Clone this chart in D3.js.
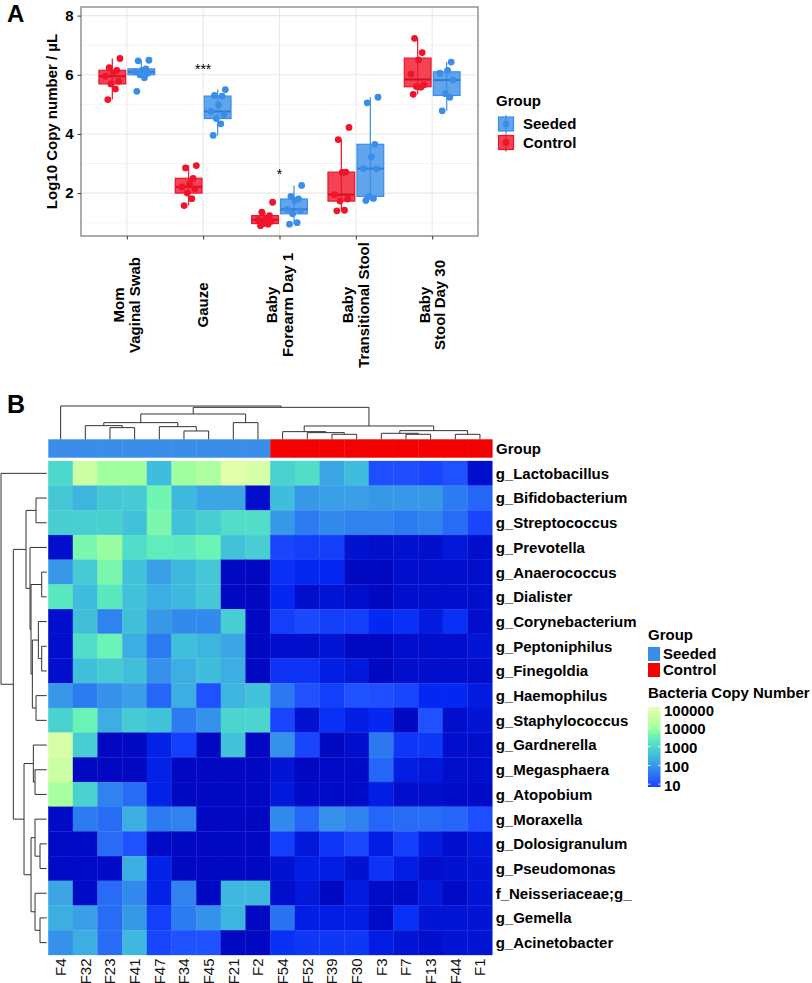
<!DOCTYPE html>
<html>
<head>
<meta charset="utf-8">
<script src="https://cdn.jsdelivr.net/npm/d3@7"></script>
<style>
  body { margin: 0; background: #fff; }
  svg text { font-family: "Liberation Sans", Arial, Helvetica, sans-serif; }
</style>
</head>
<body>
<div id="chart"></div>
<script>
// ---------- Panel A data ----------
const sites = ["Mom\nVaginal Swab", "Gauze", "Baby\nForearm Day 1", "Baby\nTransitional Stool", "Baby\nStool Day 30"];
const groups = ["Seeded", "Control"];
// log10 copies / uL, one list per site
const seededValues = [
  [5.44, 5.9, 6.0, 6.05, 6.1, 6.15, 6.2, 6.47, 6.49],
  [3.95, 4.34, 4.52, 4.65, 4.76, 4.98, 5.28, 5.3, 5.5],
  [0.95, 1.0, 1.3, 1.4, 1.45, 1.75, 1.8, 1.89, 2.26],
  [1.75, 1.82, 1.89, 2.82, 2.83, 3.22, 3.65, 5.05, 5.24],
  [4.78, 5.24, 5.36, 5.82, 6.05, 6.15, 6.43]
];
const controlValues = [
  [5.16, 5.52, 5.69, 5.78, 5.95, 6.05, 6.15, 6.24, 6.55],
  [1.58, 1.81, 2.0, 2.15, 2.21, 2.3, 2.5, 2.85, 2.93],
  [0.9, 0.95, 0.97, 1.05, 1.1, 1.15, 1.24, 1.36, 1.69],
  [1.4, 1.42, 1.73, 1.8, 1.95, 2.7, 2.71, 3.81, 4.22],
  [5.34, 5.58, 5.6, 5.66, 6.02, 6.5, 6.75, 7.23]
];
const sigLabels = ["", "***", "*", "", ""];
const sigY = [null, 6.02, 2.46, null, null];
const yTicks = [2, 4, 6, 8];
const yMinor = [1, 3, 5, 7];

// ---------- Panel B data ----------
const samples = ["F4", "F32", "F23", "F41", "F47", "F34", "F45", "F21", "F2",
                 "F54", "F52", "F39", "F30", "F3", "F7", "F13", "F44", "F1"];
const sampleGroup = ["Seeded", "Seeded", "Seeded", "Seeded", "Seeded", "Seeded", "Seeded", "Seeded", "Seeded",
                     "Control", "Control", "Control", "Control", "Control", "Control", "Control", "Control", "Control"];
const taxa = ["g_Lactobacillus", "g_Bifidobacterium", "g_Streptococcus", "g_Prevotella", "g_Anaerococcus",
              "g_Dialister", "g_Corynebacterium", "g_Peptoniphilus", "g_Finegoldia", "g_Haemophilus",
              "g_Staphylococcus", "g_Gardnerella", "g_Megasphaera", "g_Atopobium", "g_Moraxella",
              "g_Dolosigranulum", "g_Pseudomonas", "f_Neisseriaceae;g_", "g_Gemella", "g_Acinetobacter"];
// log10 bacteria copy number, rows = taxa, cols = samples
const log10Copies = [
  [3.0, 4.6, 4.0, 4.0, 2.5, 4.0, 4.2, 5.0, 4.8, 2.9, 3.1, 2.2, 2.5, 1.0, 1.0, 0.9, 1.05, 0.1],
  [2.7, 2.4, 2.7, 2.75, 3.6, 2.45, 2.2, 2.2, 0.1, 2.5, 2.0, 2.1, 2.1, 2.0, 2.0, 2.0, 1.6, 1.3],
  [2.8, 2.85, 2.85, 2.6, 3.7, 2.6, 2.8, 3.1, 3.1, 2.0, 1.6, 1.8, 1.7, 1.7, 1.6, 1.7, 1.4, 0.9],
  [0.1, 3.7, 3.95, 3.1, 3.4, 3.35, 3.55, 2.6, 2.8, 0.9, 0.8, 0.8, 0.15, 0.1, 0.15, 0.1, 0.25, 0.1],
  [2.0, 2.75, 3.7, 2.6, 2.1, 2.45, 2.7, 0, 0, 0.6, 0.5, 0.5, 0, 0, 0.1, 0.1, 0.1, 0.1],
  [3.3, 2.5, 3.3, 2.6, 2.3, 2.45, 2.7, 0, 0, 0.5, 0.1, 0.2, 0.1, 0, 0.1, 0.1, 0.1, 0.1],
  [0.1, 2.55, 1.7, 2.55, 2.0, 1.8, 1.8, 2.8, 0, 0.8, 0.95, 0.8, 0.8, 0.5, 0.6, 0.3, 0.6, 0.1],
  [0.1, 3.1, 3.55, 2.3, 1.6, 2.55, 2.4, 2.2, 0, 0.1, 0.1, 0.2, 0, 0, 0.1, 0.1, 0.1, 0.2],
  [0.1, 2.55, 2.75, 2.55, 1.9, 2.3, 2.5, 2.3, 0, 0.65, 0.65, 0.35, 0.25, 0, 0.1, 0.1, 0.1, 0.1],
  [2.0, 1.6, 1.9, 2.1, 1.3, 2.3, 1.05, 2.4, 2.6, 1.55, 1.05, 0.8, 1.05, 1.0, 0.9, 0.5, 0.5, 0.3],
  [2.9, 3.55, 2.3, 2.75, 2.6, 1.6, 1.9, 2.95, 2.95, 0.9, 0.15, 0.6, 0.35, 0.5, 0, 1.05, 0.1, 0.2],
  [4.8, 2.8, 0, 0, 0.4, 0.8, 0, 2.6, 0, 1.9, 0.9, 0, 0.1, 1.55, 0.7, 0.7, 0.1, 0.1],
  [4.6, 0, 0, 0, 0.4, 0, 0, 0, 0, 0.2, 0, 0.05, 0.05, 1.3, 0.35, 0.25, 0.1, 0.1],
  [4.1, 2.9, 1.7, 1.4, 0.4, 0, 0, 0, 0, 0.25, 0.05, 0.05, 0.05, 0.35, 0.1, 0.1, 0.05, 0.05],
  [0.05, 1.6, 1.4, 2.3, 1.6, 1.7, 0, 0, 0, 1.8, 1.3, 1.9, 1.7, 1.3, 1.4, 1.4, 1.3, 1.0],
  [0.05, 0.05, 1.4, 1.05, 0.05, 0, 0, 0, 0, 0.8, 0.25, 0.7, 0.95, 0.35, 0.8, 0.3, 0.1, 0.25],
  [0.05, 0.05, 0.05, 2.3, 0.4, 0, 0, 0, 0, 0.15, 0.35, 0.35, 0.15, 0.65, 0.35, 0.1, 0.15, 0.2],
  [2.2, 0.05, 1.4, 1.8, 0.4, 1.7, 0, 2.45, 2.45, 0.1, 0.25, 0, 0.3, 0.05, 0.05, 0.25, 0.05, 0.2],
  [2.3, 2.1, 1.4, 2.0, 0.8, 1.6, 1.9, 2.4, 0, 1.5, 0.35, 0.35, 0.35, 0.05, 0.6, 0.2, 0.2, 0.2],
  [1.9, 2.3, 1.4, 2.45, 0.9, 1.05, 1.05, 0, 0, 0.6, 0.7, 0.7, 0.7, 0.35, 0.2, 0.1, 0.2, 0.2]
];
// hclust-style merges: negative = leaf (1-based display order), positive = earlier merge; third = height
const colMerges = [
  [-3, -4, 35], [-2, 1, 41], [-6, -7, 25], [-5, 3, 38], [2, 4, 50], [-8, -9, 50], [5, 6, 76],
  [-12, -13, 15], [-11, 8, 20], [-10, 9, 23], [-15, -16, 15], [-14, 11, 18], [-17, -18, 15],
  [12, 13, 26], [10, 14, 40], [7, 15, 96], [-1, 16, 100]
];
const rowMerges = [
  [-2, -3, 32], [-5, -6, 15], [-8, -9, 15], [-7, 3, 25], [-10, -11, 32], [4, 5, 43], [2, 6, 47],
  [-4, 7, 50], [1, 8, 62], [-13, -14, 35], [-12, 10, 40], [-16, -17, 20], [-15, 12, 35],
  [-19, -20, 20], [-18, 14, 35], [13, 15, 47], [11, 16, 68], [9, 17, 100], [-1, 18, 137]
];
const legendTicks = [10, 100, 1000, 10000, 100000];

// ---------- setup ----------
const width = 812, height = 983;
const svg = d3.select("#chart").append("svg")
  .attr("width", width).attr("height", height);

const boldFont = 15;
const seededColor = "#3A8EE8";
const controlColor = "#F0142A";

svg.append("text").attr("x", 7).attr("y", 22)
  .attr("font-size", 24).attr("font-weight", "bold").text("A");
svg.append("text").attr("x", 7).attr("y", 413)
  .attr("font-size", 25).attr("font-weight", "bold").text("B");

// ---------- Panel A ----------
const pA = { left: 81, right: 478, top: 7, bottom: 236 };
const bandW = (pA.right - pA.left) / (sites.length + 0.2);
const xA = d3.scalePoint().domain(sites)
  .range([pA.left + 0.6 * bandW, pA.right - 0.6 * bandW]);
const yA = d3.scaleLinear().domain([0.55, 8.29]).range([pA.bottom, pA.top]);

const gA = svg.append("g");
gA.selectAll(".minor").data(yMinor).join("line")
  .attr("x1", pA.left).attr("x2", pA.right)
  .attr("y1", d => yA(d)).attr("y2", d => yA(d))
  .attr("stroke", "#f3f3f3").attr("stroke-width", 0.8);
gA.selectAll(".major").data(yTicks).join("line")
  .attr("x1", pA.left).attr("x2", pA.right)
  .attr("y1", d => yA(d)).attr("y2", d => yA(d))
  .attr("stroke", "#e8e8e8").attr("stroke-width", 1.1);
gA.selectAll(".vgrid").data(sites).join("line")
  .attr("x1", d => xA(d)).attr("x2", d => xA(d))
  .attr("y1", pA.top).attr("y2", pA.bottom)
  .attr("stroke", "#e8e8e8").attr("stroke-width", 1.1);

function boxStats(vals) {
  const s = vals.slice().sort(d3.ascending);
  const q1 = d3.quantileSorted(s, 0.25), med = d3.quantileSorted(s, 0.5), q3 = d3.quantileSorted(s, 0.75);
  const iqr = q3 - q1;
  const lo = d3.min(s.filter(v => v >= q1 - 1.5 * iqr));
  const hi = d3.max(s.filter(v => v <= q3 + 1.5 * iqr));
  return { q1, med, q3, lo, hi };
}

const boxW = 0.35 * bandW;
const dodge = 0.19 * bandW;
const jit = [-0.5, 0.35, -0.15, 0.7, -0.75, 0.1, 0.5, -0.35, 0.85];

const boxData = [];
sites.forEach((site, i) => {
  boxData.push({ site, group: "Control", vals: controlValues[i], off: -dodge, color: controlColor });
  boxData.push({ site, group: "Seeded", vals: seededValues[i], off: dodge, color: seededColor });
});

boxData.forEach(b => {
  const st = boxStats(b.vals);
  const cx = xA(b.site) + b.off;
  const g = gA.append("g");
  g.append("line").attr("x1", cx).attr("x2", cx)
    .attr("y1", yA(st.hi)).attr("y2", yA(st.lo))
    .attr("stroke", b.color).attr("stroke-width", 1.2);
  g.append("rect").attr("x", cx - boxW / 2).attr("width", boxW)
    .attr("y", yA(st.q3)).attr("height", yA(st.q1) - yA(st.q3))
    .attr("fill", b.color).attr("fill-opacity", 0.8)
    .attr("stroke", b.color).attr("stroke-width", 1.2);
  g.append("line").attr("x1", cx - boxW / 2).attr("x2", cx + boxW / 2)
    .attr("y1", yA(st.med)).attr("y2", yA(st.med))
    .attr("stroke", d3.color(b.color).darker(0.4)).attr("stroke-width", 2);
  g.selectAll("circle").data(b.vals).join("circle")
    .attr("cx", (d, j) => cx + jit[j % jit.length] * 9)
    .attr("cy", d => yA(d)).attr("r", 3.4)
    .attr("fill", b.color);
});

gA.selectAll(".sig").data(sites.filter((d, i) => sigLabels[i] !== "")).join("text")
  .attr("x", d => xA(d))
  .attr("y", d => yA(sigY[sites.indexOf(d)]))
  .attr("text-anchor", "middle").attr("font-size", 14)
  .text(d => sigLabels[sites.indexOf(d)]);

gA.append("rect").attr("x", pA.left).attr("y", pA.top)
  .attr("width", pA.right - pA.left).attr("height", pA.bottom - pA.top)
  .attr("fill", "none").attr("stroke", "#808080").attr("stroke-width", 1.3);

// y axis
const yAxis = gA.append("g").attr("transform", `translate(${pA.left},0)`)
  .call(d3.axisLeft(yA).tickValues(yTicks).tickSize(3.5).tickPadding(4));
yAxis.select(".domain").remove();
yAxis.selectAll(".tick line").attr("stroke", "#333");
yAxis.selectAll(".tick text").attr("font-size", boldFont).attr("font-weight", "bold")
  .attr("fill", "#000").attr("font-family", null);

// x axis
const xAxis = gA.append("g").attr("transform", `translate(0,${pA.bottom})`)
  .call(d3.axisBottom(xA).tickSize(3.5).tickFormat(""));
xAxis.select(".domain").remove();
xAxis.selectAll(".tick line").attr("stroke", "#333");

sites.forEach(s => {
  const lines = s.split("\n");
  const t = gA.append("g").attr("transform", `translate(${xA(s)},305) rotate(-90)`);
  lines.forEach((ln, k) => {
    t.append("text").attr("x", 0).attr("y", (k - (lines.length - 1) / 2) * 15.5)
      .attr("dy", "0.35em").attr("text-anchor", "middle")
      .attr("font-size", boldFont).attr("font-weight", "bold").text(ln);
  });
});

gA.append("text")
  .attr("transform", `translate(52,${(pA.top + pA.bottom) / 2}) rotate(-90)`)
  .attr("dy", "0.35em").attr("text-anchor", "middle")
  .attr("font-size", boldFont).attr("font-weight", "bold")
  .text("Log10 Copy number / µL");

// legend A
const legA = gA.append("g").attr("transform", "translate(496,0)");
legA.append("text").attr("x", 0).attr("y", 105.5)
  .attr("font-size", boldFont).attr("font-weight", "bold").text("Group");
const colorA = d3.scaleOrdinal().domain(groups).range([seededColor, controlColor]);
groups.forEach((gname, i) => {
  const cy = 124 + i * 18.5;
  const k = legA.append("g");
  k.append("line").attr("x1", 10).attr("x2", 10).attr("y1", cy - 9).attr("y2", cy + 9)
    .attr("stroke", colorA(gname)).attr("stroke-width", 1.2);
  k.append("rect").attr("x", 2.5).attr("y", cy - 7).attr("width", 15).attr("height", 14)
    .attr("fill", colorA(gname)).attr("fill-opacity", 0.8)
    .attr("stroke", colorA(gname)).attr("stroke-width", 1.2);
  k.append("circle").attr("cx", 10).attr("cy", cy).attr("r", 3.4).attr("fill", colorA(gname));
  k.append("text").attr("x", 27).attr("y", cy).attr("dy", "0.36em")
    .attr("font-size", boldFont).attr("font-weight", "bold").text(gname);
});

// ---------- Panel B ----------
const xB = d3.scaleBand().domain(samples).range([48.3, 492.3]);
const yB = d3.scaleBand().domain(taxa).range([461, 955]);
const groupColor = d3.scaleOrdinal().domain(groups).range(["#3B8DEA", "#F50000"]);
const heatColor = d3.scaleLinear()
  .domain([0, 0.5, 1, 1.5, 2, 2.5, 3, 3.5, 4, 4.5, 5])
  .range(["#0008C2", "#0428F2", "#1E4EFF", "#2A74F2", "#3898E8", "#40BCDC",
          "#4CD8CC", "#64F2B8", "#A0FF9E", "#C6FFA2", "#E2FFAA"])
  .clamp(true);

const gB = svg.append("g");

// group bar
gB.selectAll(".gbar").data(samples).join("rect")
  .attr("x", d => xB(d)).attr("width", xB.bandwidth() + 0.3)
  .attr("y", 439.3).attr("height", 18.4)
  .attr("fill", (d, i) => groupColor(sampleGroup[i]));
gB.append("text").attr("x", 496).attr("y", 448.5).attr("dy", "0.36em")
  .attr("font-size", boldFont).attr("font-weight", "bold").text("Group");

// cells
const cells = [];
taxa.forEach((t, r) => samples.forEach((s, c) => cells.push({ t, s, v: log10Copies[r][c] })));
gB.selectAll(".cell").data(cells).join("rect")
  .attr("x", d => xB(d.s)).attr("y", d => yB(d.t))
  .attr("width", xB.bandwidth()).attr("height", yB.bandwidth())
  .attr("fill", d => heatColor(d.v))
  .attr("stroke", d => heatColor(d.v)).attr("stroke-width", 0.3);

// row labels
gB.selectAll(".rlab").data(taxa).join("text")
  .attr("x", 495.7).attr("y", d => yB(d) + yB.bandwidth() / 2).attr("dy", "0.36em")
  .attr("font-size", boldFont).attr("font-weight", "bold").text(d => d);

// column labels
gB.selectAll(".clab").data(samples).join("text")
  .attr("transform", d => `translate(${xB(d) + xB.bandwidth() / 2},958.5) rotate(-90)`)
  .attr("dy", "0.36em").attr("text-anchor", "end")
  .attr("font-size", boldFont).attr("fill", "#111").text(d => d);

// dendrograms
function dendroSegments(merges, leafPos) {
  const nodes = [];
  const get = k => k < 0 ? { pos: leafPos(-k - 1), h: 0 } : nodes[k - 1];
  const segs = [];
  merges.forEach(([a, b, h]) => {
    const A = get(a), B = get(b);
    segs.push({ A, B, h });
    nodes.push({ pos: (A.pos + B.pos) / 2, h });
  });
  return segs;
}
const colH = d3.scaleLinear().domain([0, 100]).range([439.3, 406]);
const colSegs = dendroSegments(colMerges, i => xB(samples[i]) + xB.bandwidth() / 2);
gB.selectAll(".cden").data(colSegs).join("path")
  .attr("d", d => `M${d.A.pos},${colH(d.A.h)}V${colH(d.h)}H${d.B.pos}V${colH(d.B.h)}`)
  .attr("fill", "none").attr("stroke", "#333").attr("stroke-width", 1);

const rowH = d3.scaleLinear().domain([0, 137]).range([46.7, 1]);
const rowSegs = dendroSegments(rowMerges, i => yB(taxa[i]) + yB.bandwidth() / 2);
gB.selectAll(".rden").data(rowSegs).join("path")
  .attr("d", d => `M${rowH(d.A.h)},${d.A.pos}H${rowH(d.h)}V${d.B.pos}H${rowH(d.B.h)}`)
  .attr("fill", "none").attr("stroke", "#333").attr("stroke-width", 1);

// legends B
const legB = gB.append("g").attr("transform", "translate(648,0)");
legB.append("text").attr("x", 0).attr("y", 635).attr("dy", "0.36em")
  .attr("font-size", boldFont).attr("font-weight", "bold").text("Group");
groups.forEach((gname, i) => {
  const y0 = 647 + i * 16;
  legB.append("rect").attr("x", 0).attr("y", y0).attr("width", 12).attr("height", 14)
    .attr("fill", groupColor(gname));
  legB.append("text").attr("x", 15).attr("y", y0 + 7).attr("dy", "0.36em")
    .attr("font-size", boldFont).attr("font-weight", "bold").text(gname);
});
legB.append("text").attr("x", 0).attr("y", 693).attr("dy", "0.36em")
  .attr("font-size", boldFont).attr("font-weight", "bold").text("Bacteria Copy Number");

const barScale = d3.scaleLog().domain([10 ** 0.85, 10 ** 5.12]).range([787, 707]);
const grad = svg.append("defs").append("linearGradient").attr("id", "copyGrad")
  .attr("x1", 0).attr("x2", 0).attr("y1", 1).attr("y2", 0);
d3.range(0, 21).forEach(k => {
  const v = 0.85 + (5.12 - 0.85) * k / 20;
  grad.append("stop").attr("offset", k / 20).attr("stop-color", heatColor(v));
});
legB.append("rect").attr("x", 0).attr("y", 707).attr("width", 12.5).attr("height", 80)
  .attr("fill", "url(#copyGrad)");
legB.selectAll(".tk").data(legendTicks).join("g")
  .each(function (d) {
    const y = barScale(d);
    const g = d3.select(this);
    g.append("line").attr("x1", 0).attr("x2", 2.5).attr("y1", y).attr("y2", y)
      .attr("stroke", "#fff").attr("stroke-width", 0.8);
    g.append("line").attr("x1", 10).attr("x2", 12.5).attr("y1", y).attr("y2", y)
      .attr("stroke", "#fff").attr("stroke-width", 0.8);
    g.append("text").attr("x", 16).attr("y", y + 1).attr("dy", "0.36em")
      .attr("font-size", boldFont).attr("font-weight", "bold").text(d);
  });
</script>
</body>
</html>
